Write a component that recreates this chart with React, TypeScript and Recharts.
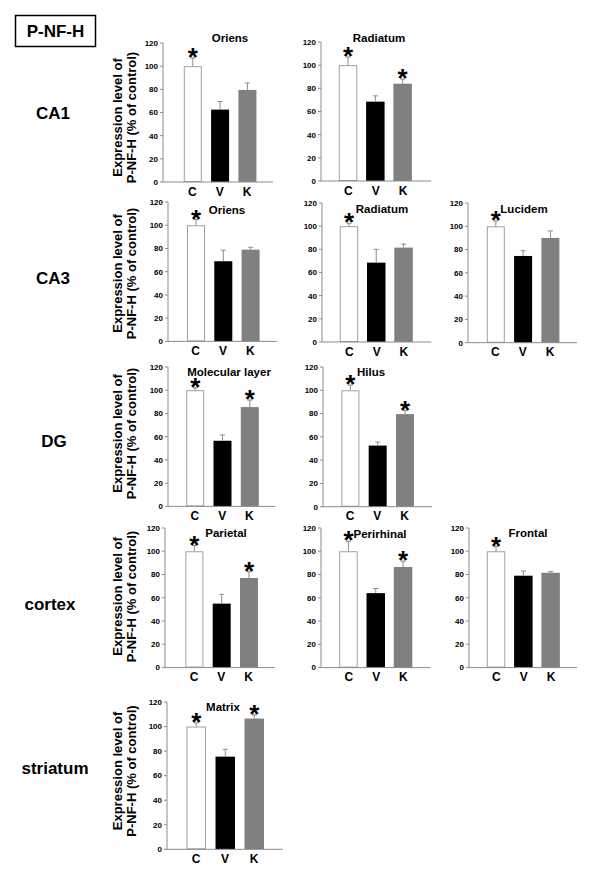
import React from 'react';
import { BarChart, Bar, XAxis, YAxis } from 'recharts';

const categories = ['C', 'V', 'K'];
const yTicks = [0, 20, 40, 60, 80, 100, 120];

const ca1OriensMean = [100, 62.5, 79.5];
const ca1OriensErr = [7, 7, 6];
const ca1OriensSig = [true, false, false];

const ca1RadiatumMean = [100, 68.5, 84];
const ca1RadiatumErr = [7, 5, 4];
const ca1RadiatumSig = [true, false, true];

const ca3OriensMean = [100, 69, 79];
const ca3OriensErr = [5, 9.5, 2];
const ca3OriensSig = [true, false, false];

const ca3RadiatumMean = [100, 68.5, 81.5];
const ca3RadiatumErr = [2.5, 11.5, 3];
const ca3RadiatumSig = [true, false, false];

const ca3LucidemMean = [100, 74.5, 90];
const ca3LucidemErr = [4.5, 4.5, 6];
const ca3LucidemSig = [true, false, false];

const dgMolecularMean = [100, 56.5, 85.5];
const dgMolecularErr = [2, 5, 6];
const dgMolecularSig = [true, false, true];

const dgHilusMean = [100, 52.5, 79.5];
const dgHilusErr = [4.5, 3, 3];
const dgHilusSig = [true, false, true];

const cxParietalMean = [100, 55, 77];
const cxParietalErr = [5, 8, 5.5];
const cxParietalSig = [true, false, true];

const cxPerirhinalMean = [100, 64, 86.5];
const cxPerirhinalErr = [8.5, 4, 5];
const cxPerirhinalSig = [true, false, true];

const cxFrontalMean = [100, 79, 81.5];
const cxFrontalErr = [4, 4, 1];
const cxFrontalSig = [true, false, false];

const stMatrixMean = [100, 75.5, 106.5];
const stMatrixErr = [3, 6, 3];
const stMatrixSig = [true, false, true];

const rowLabels = ['CA1', 'CA3', 'DG', 'cortex', 'striatum'];
const yLabelLines = ['Expression level of', 'P-NF-H (% of control)'];

const FONT = '"Liberation Sans", Arial, Helvetica, sans-serif';
const AXIS = '#8c8c8c';
const BAR_STYLE: Record<string, { fill: string; stroke: string }> = {
  C: { fill: '#ffffff', stroke: '#a0a0a0' },
  V: { fill: '#000000', stroke: '#000000' },
  K: { fill: '#808080', stroke: '#808080' },
};

function makeRows(mean: number[], err: number[], sig: boolean[]) {
  return categories.map((c, i) => ({ cat: c, mean: mean[i], err: err[i], sig: sig[i] }));
}

const BarShape = (props: any) => {
  const { x, y, width, height, payload } = props;
  const st = BAR_STYLE[payload.cat];
  const ePx = payload.mean ? (payload.err * height) / payload.mean : 0;
  const cx = x + width / 2;
  const top = y - ePx;
  const astSize = 26;
  return (
    <g>
      {payload.cat === 'C' ? (
        <rect x={x + 0.5} y={y + 0.5} width={width - 1} height={height - 1} fill={st.fill} stroke={st.stroke} strokeWidth={1} />
      ) : (
        <rect x={x} y={y} width={width} height={height} fill={st.fill} />
      )}
      <line x1={cx} y1={y} x2={cx} y2={top} stroke={AXIS} strokeWidth={1} />
      <line x1={cx - 2.5} y1={top} x2={cx + 2.5} y2={top} stroke={AXIS} strokeWidth={1} />
      {payload.sig ? (
        <text x={cx} y={top - 7 + astSize * 0.58} textAnchor="middle" fontSize={astSize} fontWeight={700} fontFamily={FONT} fill="#000">
          *
        </text>
      ) : null}
    </g>
  );
};

type PanelCfg = {
  title: string;
  titleX: number;
  titleY: number;
  data: any[];
  axisX: number;
  topY: number;
  bottomY: number;
  rightX: number;
  padL: number;
  band: number;
  barSize: number;
};

const panels: PanelCfg[] = [
  { title: 'Oriens', titleX: 230, titleY: 38, data: makeRows(ca1OriensMean, ca1OriensErr, ca1OriensSig), axisX: 163, topY: 43, bottomY: 182, rightX: 273, padL: 15.8, band: 27.3, barSize: 18 },
  { title: 'Radiatum', titleX: 379, titleY: 38, data: makeRows(ca1RadiatumMean, ca1RadiatumErr, ca1RadiatumSig), axisX: 321, topY: 41.7, bottomY: 180.7, rightX: 431, padL: 13.8, band: 27.3, barSize: 18.5 },
  { title: 'Oriens', titleX: 227, titleY: 210, data: makeRows(ca3OriensMean, ca3OriensErr, ca3OriensSig), axisX: 167.7, topY: 202.3, bottomY: 341.7, rightX: 277, padL: 14, band: 27.3, barSize: 18 },
  { title: 'Radiatum', titleX: 382, titleY: 209, data: makeRows(ca3RadiatumMean, ca3RadiatumErr, ca3RadiatumSig), axisX: 321.7, topY: 202.7, bottomY: 341.7, rightX: 431, padL: 13.7, band: 27.3, barSize: 18.5 },
  { title: 'Lucidem', titleX: 524, titleY: 209, data: makeRows(ca3LucidemMean, ca3LucidemErr, ca3LucidemSig), axisX: 468, topY: 203, bottomY: 342.7, rightX: 577, padL: 13.8, band: 27.3, barSize: 18 },
  { title: 'Molecular layer', titleX: 229, titleY: 372, data: makeRows(dgMolecularMean, dgMolecularErr, dgMolecularSig), axisX: 167.7, topY: 367.3, bottomY: 506.7, rightX: 275, padL: 13.2, band: 27.3, barSize: 18 },
  { title: 'Hilus', titleX: 371, titleY: 372, data: makeRows(dgHilusMean, dgHilusErr, dgHilusSig), axisX: 323, topY: 367, bottomY: 506.7, rightX: 432, padL: 13.4, band: 27.3, barSize: 18 },
  { title: 'Parietal', titleX: 226, titleY: 533, data: makeRows(cxParietalMean, cxParietalErr, cxParietalSig), axisX: 165.3, topY: 527.7, bottomY: 667.3, rightX: 275, padL: 15.4, band: 27.3, barSize: 18 },
  { title: 'Perirhinal', titleX: 380, titleY: 534, data: makeRows(cxPerirhinalMean, cxPerirhinalErr, cxPerirhinalSig), axisX: 320.7, topY: 527.7, bottomY: 667.3, rightX: 430, padL: 14.2, band: 27.3, barSize: 18.5 },
  { title: 'Frontal', titleX: 528, titleY: 533, data: makeRows(cxFrontalMean, cxFrontalErr, cxFrontalSig), axisX: 469, topY: 527.7, bottomY: 667.3, rightX: 577, padL: 13.8, band: 27.3, barSize: 18.5 },
  { title: 'Matrix', titleX: 223, titleY: 707, data: makeRows(stMatrixMean, stMatrixErr, stMatrixSig), axisX: 166.7, topY: 702, bottomY: 849.3, rightX: 282.7, padL: 14.5, band: 29, barSize: 19.5 },
];

const rowLabelPos = [
  { x: 53, y: 113 },
  { x: 53, y: 278 },
  { x: 54, y: 441 },
  { x: 50, y: 604 },
  { x: 55, y: 768 },
];
const yLabelCenters = [117.5, 273.5, 433.5, 596.5, 771];

function Panel({ cfg }: { cfg: PanelCfg }) {
  const { axisX, topY, bottomY, rightX, padL, band, barSize, data } = cfg;
  const W = rightX - axisX;
  const H = bottomY - topY;
  const YW = 24;
  const MT = 34;
  const XH = 22;
  const MR = 4;
  const padR = W - padL - 3 * band;
  return (
    <div style={{ position: 'absolute', left: axisX - YW, top: topY - MT }}>
      <BarChart width={YW + W + MR} height={MT + H + XH} data={data} margin={{ top: MT, right: MR, bottom: 0, left: 0 }}>
        <XAxis
          dataKey="cat"
          height={XH}
          padding={{ left: padL, right: padR }}
          axisLine={{ stroke: AXIS }}
          tickLine={false}
          tickSize={3}
          tickMargin={2}
          interval={0}
          tick={{ fontSize: 12, fontWeight: 700, fill: '#000', fontFamily: FONT }}
        />
        <YAxis
          width={YW}
          domain={[0, 120]}
          ticks={yTicks}
          interval={0}
          axisLine={{ stroke: AXIS }}
          tickLine={{ stroke: AXIS }}
          tickSize={3}
          tickMargin={2}
          tick={{ fontSize: 8, fontWeight: 700, fill: '#000', fontFamily: FONT }}
        />
        <Bar dataKey="mean" barSize={barSize} shape={BarShape} isAnimationActive={false} />
      </BarChart>
    </div>
  );
}

export default function App() {
  return (
    <div style={{ position: 'absolute', left: 0, top: 0, width: 600, height: 876, background: '#fff', overflow: 'hidden', fontFamily: FONT }}>
      {panels.map((p, i) => (
        <Panel key={i} cfg={p} />
      ))}
      <svg width={600} height={876} style={{ position: 'absolute', left: 0, top: 0, pointerEvents: 'none' }}>
        <rect x={15.5} y={15.5} width={80} height={31} fill="none" stroke="#000" strokeWidth={1.5} />
        <text x={55.5} y={31} textAnchor="middle" dominantBaseline="central" fontSize={17} fontWeight={700} fontFamily={FONT} fill="#000">
          P-NF-H
        </text>
        {rowLabels.map((r, i) => (
          <text key={r} x={rowLabelPos[i].x} y={rowLabelPos[i].y} textAnchor="middle" dominantBaseline="central" fontSize={17} fontWeight={700} fontFamily={FONT} fill="#000">
            {r}
          </text>
        ))}
        {yLabelCenters.map((cy, i) => (
          <g key={i}>
            <text x={117} y={cy} transform={`rotate(-90 117 ${cy})`} textAnchor="middle" dominantBaseline="central" fontSize={13} fontWeight={700} fontFamily={FONT} fill="#000">
              {yLabelLines[0]}
            </text>
            <text x={131} y={cy} transform={`rotate(-90 131 ${cy})`} textAnchor="middle" dominantBaseline="central" fontSize={13} fontWeight={700} fontFamily={FONT} fill="#000">
              {yLabelLines[1]}
            </text>
          </g>
        ))}
        {panels.map((p, i) => (
          <text key={i} x={p.titleX} y={p.titleY} textAnchor="middle" dominantBaseline="central" fontSize={11.5} fontWeight={700} fontFamily={FONT} fill="#000">
            {p.title}
          </text>
        ))}
      </svg>
    </div>
  );
}
